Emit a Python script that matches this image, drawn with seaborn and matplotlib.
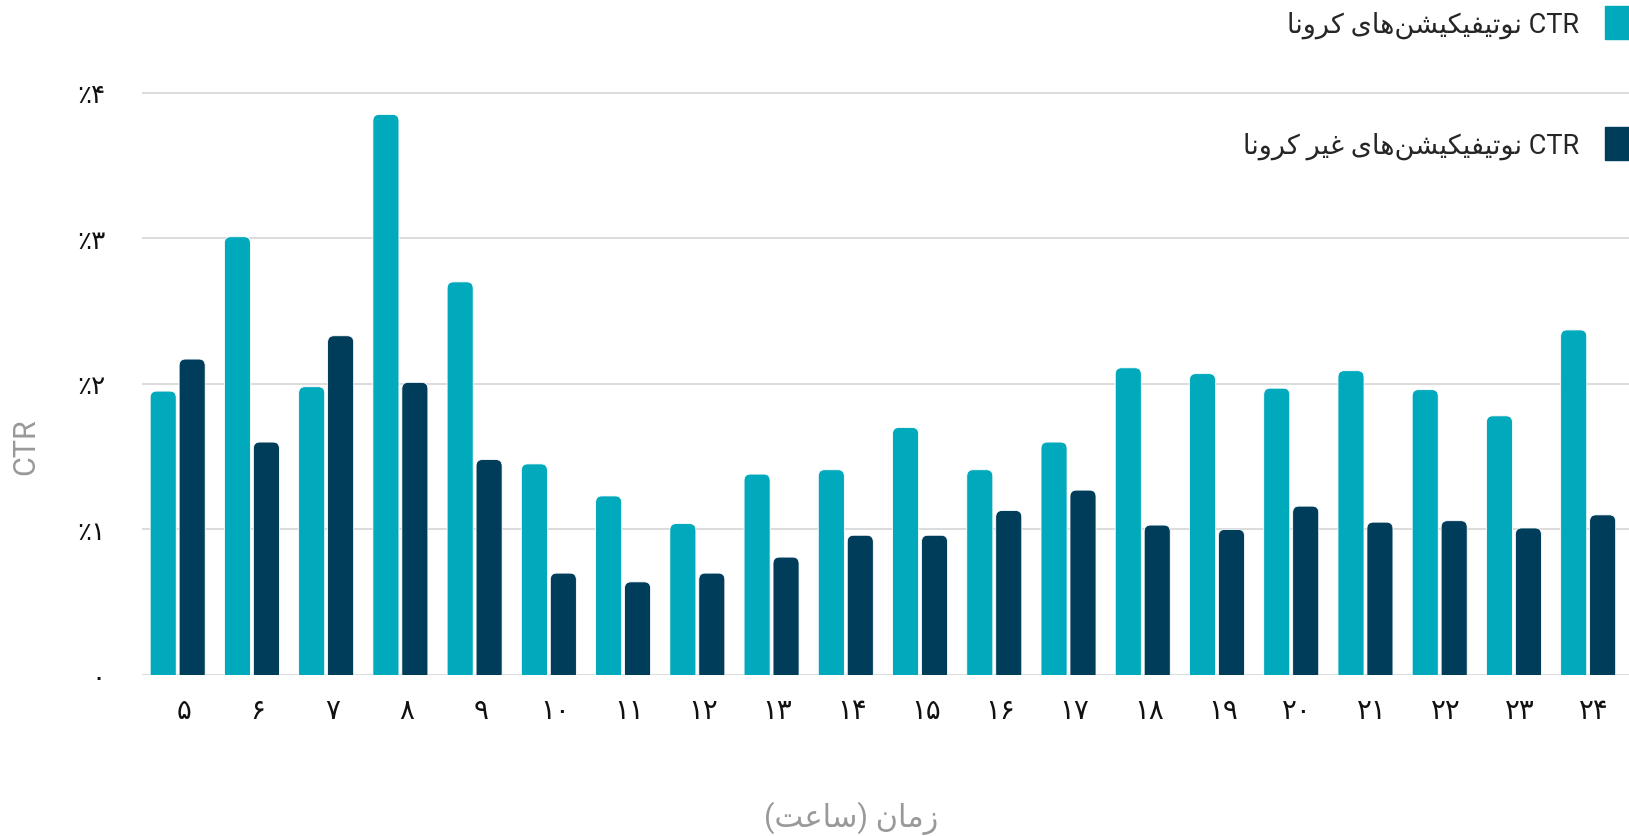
import pandas as pd
import matplotlib
matplotlib.use('Agg')
import matplotlib.pyplot as plt
from matplotlib.patches import FancyBboxPatch
from matplotlib.transforms import ScaledTranslation
import seaborn as sns

hours = list(range(5, 25))
corona_ctr = [1.95, 3.01, 1.98, 3.85, 2.70, 1.45, 1.23, 1.04, 1.38, 1.41,
              1.70, 1.41, 1.60, 2.11, 2.07, 1.97, 2.09, 1.96, 1.78, 2.37]
other_ctr = [2.17, 1.60, 2.33, 2.01, 1.48, 0.70, 0.64, 0.70, 0.81, 0.96,
             0.96, 1.13, 1.27, 1.03, 1.00, 1.16, 1.05, 1.06, 1.01, 1.10]
y_ticks = [0, 1, 2, 3, 4]

label_corona = 'CTR نوتیفیکیشن‌های کرونا'
label_other = 'CTR نوتیفیکیشن‌های غیر کرونا'
x_title = 'زمان (ساعت)'
y_title = 'CTR'

TEAL = '#00a9bc'
NAVY = '#003d5b'
FA_DIGITS = '۰۱۲۳۴۵۶۷۸۹'

# matplotlib has no arabic shaping / bidi, so do a small one by hand
# (iso, fin, ini, med)
FORMS = {
    'ا': ('\uFE8D', '\uFE8E', None, None),
    'ر': ('\uFEAD', '\uFEAE', None, None),
    'ز': ('\uFEAF', '\uFEB0', None, None),
    'و': ('\uFEED', '\uFEEE', None, None),
    'ت': ('\uFE95', '\uFE96', '\uFE97', '\uFE98'),
    'س': ('\uFEB1', '\uFEB2', '\uFEB3', '\uFEB4'),
    'ش': ('\uFEB5', '\uFEB6', '\uFEB7', '\uFEB8'),
    'ع': ('\uFEC9', '\uFECA', '\uFECB', '\uFECC'),
    'غ': ('\uFECD', '\uFECE', '\uFECF', '\uFED0'),
    'ف': ('\uFED1', '\uFED2', '\uFED3', '\uFED4'),
    'م': ('\uFEE1', '\uFEE2', '\uFEE3', '\uFEE4'),
    'ن': ('\uFEE5', '\uFEE6', '\uFEE7', '\uFEE8'),
    'ه': ('\uFEE9', '\uFEEA', '\uFEEB', '\uFEEC'),
    'ک': ('\uFB8E', '\uFB8F', '\uFB90', '\uFB91'),
    'ی': ('\uFBFC', '\uFBFD', '\uFBFE', '\uFBFF'),
}
MIRROR = {'(': ')', ')': '('}


def dual(c):
    return c in FORMS and FORMS[c][2] is not None


def shape(s):
    out = []
    for i, c in enumerate(s):
        if c not in FORMS:
            out.append(c)
            continue
        prev_j = i > 0 and dual(s[i - 1])
        next_j = dual(c) and i + 1 < len(s) and s[i + 1] in FORMS
        iso, fin, ini, med = FORMS[c]
        if prev_j and next_j:
            out.append(med)
        elif prev_j:
            out.append(fin)
        elif next_j:
            out.append(ini)
        else:
            out.append(iso)
    return ''.join(out).replace('\u200c', '')


def rtl(s):
    shaped = shape(s)
    # split into latin runs and the rest, reverse for visual order
    runs, cur, cur_latin = [], '', None
    for c in shaped:
        is_latin = c.isascii() and c.isalnum()
        if cur and is_latin != cur_latin:
            runs.append((cur, cur_latin))
            cur = ''
        cur += c
        cur_latin = is_latin
    if cur:
        runs.append((cur, cur_latin))
    vis = []
    for text, is_latin in reversed(runs):
        if is_latin:
            vis.append(text)
        else:
            vis.append(''.join(MIRROR.get(c, c) for c in reversed(text)))
    return ''.join(vis)


def fa_num(n):
    return ''.join(FA_DIGITS[int(d)] for d in str(n))


df = pd.DataFrame({
    'hour': hours * 2,
    'ctr': corona_ctr + other_ctr,
    'series': [label_corona] * len(hours) + [label_other] * len(hours),
})

sns.set_style('white')
plt.rcParams['font.family'] = ['Roboto', 'DejaVu Sans']

fig = plt.figure(figsize=(16.29, 8.37), dpi=100)
ax = fig.add_axes([0.0872, 0.1923, 0.9128, 0.7133])

sns.barplot(data=df, x='hour', y='ctr', hue='series',
            palette=[TEAL, NAVY], width=0.78, gap=0.1,
            saturation=1, ax=ax, legend=False)

ax.set_ylim(0, 4.1)
ax.set_xlim(-0.48, 19.55)

# round the top corners of the bars
rx = 0.085
ry = 0.045
for p in list(ax.patches):
    x, w, h = p.get_x(), p.get_width(), p.get_height()
    fc = p.get_facecolor()
    p.remove()
    ax.add_patch(FancyBboxPatch((x, -ry), w, h + ry,
                                boxstyle='round,pad=0,rounding_size=%f' % rx,
                                mutation_aspect=ry / rx,
                                facecolor=fc, edgecolor='white', linewidth=0.6,
                                zorder=2))

ax.set_yticks(y_ticks)
ax.set_yticklabels(['۰'] + ['٪' + fa_num(v) for v in y_ticks[1:]])
ax.set_xticks(range(len(hours)))
ax.set_xticklabels([fa_num(h) for h in hours])
ax.tick_params(axis='both', length=0, colors='#111111')
ax.tick_params(axis='x', pad=16, labelsize=20)
ax.tick_params(axis='y', pad=26, labelsize=19)
shift = ScaledTranslation(6 / 100, 0, fig.dpi_scale_trans)
for lbl in ax.get_xticklabels():
    lbl.set_transform(lbl.get_transform() + shift)

ax.yaxis.grid(True, color='#d6d6d6', linewidth=1.2, zorder=0)
ax.set_axisbelow(True)
for s in ax.spines.values():
    s.set_visible(False)

ax.set_xlabel(rtl(x_title), fontsize=22, color='#999999')
ax.xaxis.set_label_coords(0.477, -0.238)
ax.xaxis.label.set_va('center')
ax.set_ylabel(y_title, fontsize=22, color='#999999')
ax.yaxis.set_label_coords(-0.078, 0.384)
ax.yaxis.label.set_va('center')

handles = [plt.Rectangle((0, 0), 1, 1, color=TEAL),
           plt.Rectangle((0, 0), 1, 1, color=NAVY)]
fig.legend(handles, [rtl(label_corona), rtl(label_other)],
           loc='upper right', bbox_to_anchor=(1.006, 0.992),
           frameon=False, markerfirst=False, fontsize=19.5,
           handlelength=1.25, handleheight=1.5, handletextpad=0.95,
           labelspacing=3.25, borderpad=0, borderaxespad=0)

fig.savefig('out.png', dpi=100)
